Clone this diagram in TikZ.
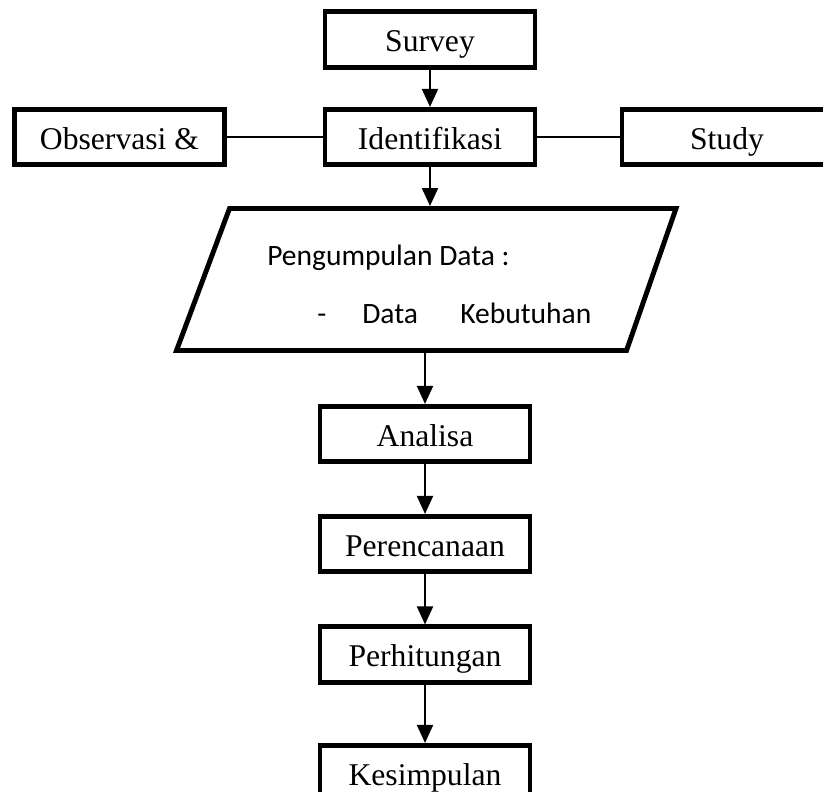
\documentclass[tikz,border=0pt]{standalone}
\usepackage{fontspec}
\setmainfont{Liberation Serif}
\newfontfamily\calibrifont{Carlito}
\usetikzlibrary{arrows.meta}

\tikzset{
    stepbox/.style={draw, line width=3.5pt, inner sep=0pt, minimum width=5.25cm, minimum height=1.38cm,
        text height=0.65cm, text depth=0.05cm, font=\fontsize{22.5}{26}\selectfont},
    datatext/.style={anchor=base west, inner sep=0pt, font=\calibrifont\fontsize{21}{24}\selectfont},
    arr/.style={line width=1.4pt, -{Triangle[length=0.45cm,width=0.4cm]}},
    link/.style={line width=1.1pt}
}

\begin{document}
\begin{tikzpicture}[x=0.025cm, y=-0.025cm]
    \useasboundingbox (0,0) rectangle (823,791);

    % Top row
    \node[stepbox] (survey) at (430, 39.5) {Survey};
    \node[stepbox] (ident) at (430, 137) {Identifikasi};
    \node[stepbox] (obs) at (119.5, 137) {Observasi \&};
    \node[stepbox] (study) at (727, 137) {Study};

    % Pengumpulan data (parallelogram)
    \draw[line width=3.5pt, line join=miter] (229.5, 208.5) -- (676, 208.5) -- (626.5, 350.5) -- (176.5, 350.5) -- cycle;
    \coordinate (datatop) at (430, 206);
    \coordinate (databot) at (425, 353);
    \node[datatext] (data1) at (267, 265) {Pengumpulan Data :};
    \node[datatext] (data2) at (317, 323) {\makebox[32pt][l]{-}\makebox[69.7pt][l]{Data}Kebutuhan};

    % Lower chain
    \node[stepbox] (ana) at (425, 434) {Analisa};
    \node[stepbox] (renc) at (425, 544) {Perencanaan};
    \node[stepbox] (hitung) at (425, 654.5) {Perhitungan};
    \node[stepbox] (simpul) at (425, 773) {Kesimpulan};

    % Connectors
    \draw[link] (obs.east) -- (ident.west);
    \draw[link] (ident.east) -- (study.west);
    \draw[arr] (survey.south) -- (ident.north);
    \draw[arr] (ident.south) -- (datatop);
    \draw[arr] (databot) -- (ana.north);
    \draw[arr] (ana.south) -- (renc.north);
    \draw[arr] (renc.south) -- (hitung.north);
    \draw[arr] (hitung.south) -- (simpul.north);
\end{tikzpicture}
\end{document}
